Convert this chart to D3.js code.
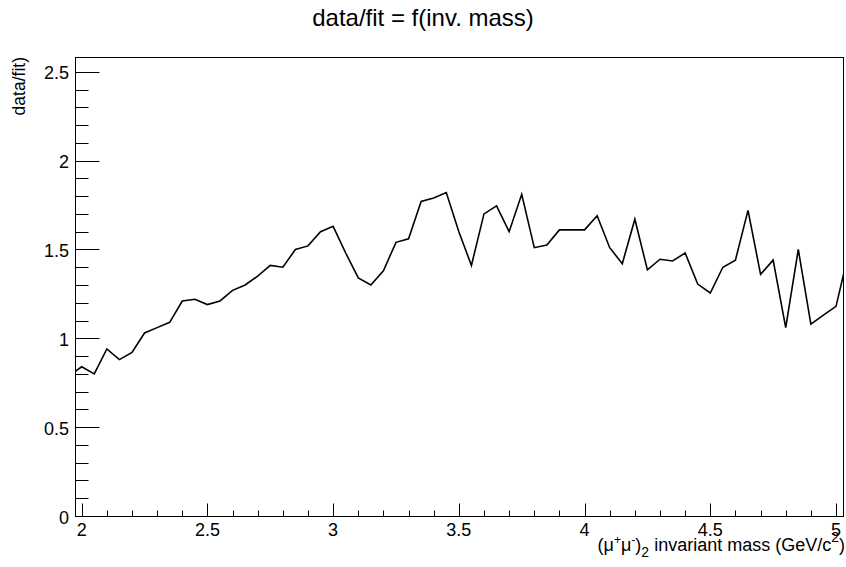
<!DOCTYPE html>
<html>
<head>
<meta charset="utf-8">
<script src="https://cdn.jsdelivr.net/npm/d3@7"></script>
<style>
  html, body { margin: 0; padding: 0; background: #fff; }
  svg { display: block; font-family: "Liberation Sans", Arial, Helvetica, sans-serif; }
</style>
</head>
<body>
<svg id="chart" width="846" height="567"></svg>
<script>
// Invariant-mass bin centres (GeV/c^2) and the data/fit ratio in each bin
const mass = [
  1.95, 2.00, 2.05, 2.10, 2.15, 2.20, 2.25, 2.30, 2.35, 2.40,
  2.45, 2.50, 2.55, 2.60, 2.65, 2.70, 2.75, 2.80, 2.85, 2.90,
  2.95, 3.00, 3.05, 3.10, 3.15, 3.20, 3.25, 3.30, 3.35, 3.40,
  3.45, 3.50, 3.55, 3.60, 3.65, 3.70, 3.75, 3.80, 3.85, 3.90,
  3.95, 4.00, 4.05, 4.10, 4.15, 4.20, 4.25, 4.30, 4.35, 4.40,
  4.45, 4.50, 4.55, 4.60, 4.65, 4.70, 4.75, 4.80, 4.85, 4.90,
  4.95, 5.00, 5.05
];
const ratio = [
  0.79, 0.84, 0.80, 0.94, 0.88, 0.92, 1.03, 1.06, 1.09, 1.21,
  1.22, 1.19, 1.21, 1.27, 1.30, 1.35, 1.41, 1.40, 1.50, 1.52,
  1.60, 1.63, 1.48, 1.34, 1.30, 1.38, 1.54, 1.56, 1.77, 1.79,
  1.82, 1.60, 1.41, 1.70, 1.745, 1.60, 1.81, 1.51, 1.525, 1.61,
  1.61, 1.61, 1.69, 1.51, 1.42, 1.67, 1.385, 1.445, 1.435, 1.48,
  1.305, 1.255, 1.40, 1.44, 1.72, 1.36, 1.44, 1.06, 1.50, 1.08,
  1.13, 1.18, 1.48
];

// Axis tick labels
const xTickLabels = ["2", "2.5", "3", "3.5", "4", "4.5", "5"];
const yTickLabels = ["0", "0.5", "1", "1.5", "2", "2.5"];

const titleText = "data/fit = f(inv. mass)";
const yTitleText = "data/fit)";

const svg = d3.select("#chart");
const frame = { left: 75, right: 844, top: 57, bottom: 516 };

const x = d3.scaleLinear().domain([1.9734, 5.0318]).range([frame.left, frame.right]);
const y = d3.scaleLinear().domain([0, 2.583]).range([frame.bottom, frame.top]);

// clip region for the curve
svg.append("defs").append("clipPath").attr("id", "plotClip")
  .append("rect")
  .attr("x", frame.left).attr("y", frame.top)
  .attr("width", frame.right - frame.left).attr("height", frame.bottom - frame.top);

// Frame box
svg.append("rect")
  .attr("x", frame.left + 0.5).attr("y", frame.top + 0.5)
  .attr("width", frame.right - frame.left - 1).attr("height", frame.bottom - frame.top)
  .attr("fill", "none").attr("stroke", "#000").attr("stroke-width", 1);

// Y axis: major ticks every 0.5, minor every 0.1, drawn inward
const yMajor = yTickLabels.map(Number);
const yMinor = d3.range(0, 26).map(i => i / 10).filter(v => y(v) >= frame.top);
const yAxis = svg.append("g").attr("transform", `translate(${frame.left + 0.5},0)`);
yAxis.selectAll("line.minor").data(yMinor).join("line")
  .attr("class", "minor")
  .attr("x1", 0).attr("x2", 13)
  .attr("y1", d => Math.round(y(d)) + 0.5).attr("y2", d => Math.round(y(d)) + 0.5)
  .attr("stroke", "#000");
yAxis.selectAll("line.major").data(yMajor).join("line")
  .attr("class", "major")
  .attr("x1", 0).attr("x2", 24)
  .attr("y1", d => Math.round(y(d)) + 0.5).attr("y2", d => Math.round(y(d)) + 0.5)
  .attr("stroke", "#000");
svg.append("g").selectAll("text").data(yTickLabels).join("text")
  .attr("x", 69)
  .attr("y", d => y(+d) + 7.5)
  .attr("text-anchor", "end")
  .attr("font-size", 18)
  .attr("fill", "#000")
  .text(d => d);

// X axis: major ticks every 0.5, minor every 0.1, drawn upward from the bottom
const xMajor = xTickLabels.map(Number);
const xMinor = d3.range(20, 51).map(i => i / 10);
const xAxis = svg.append("g").attr("transform", `translate(0,${frame.bottom + 0.5})`);
xAxis.selectAll("line.minor").data(xMinor).join("line")
  .attr("class", "minor")
  .attr("y1", 0).attr("y2", -6)
  .attr("x1", d => Math.round(x(d)) + 0.5).attr("x2", d => Math.round(x(d)) + 0.5)
  .attr("stroke", "#000");
xAxis.selectAll("line.major").data(xMajor).join("line")
  .attr("class", "major")
  .attr("y1", 0).attr("y2", -13)
  .attr("x1", d => Math.round(x(d)) + 0.5).attr("x2", d => Math.round(x(d)) + 0.5)
  .attr("stroke", "#000");
svg.append("g").selectAll("text").data(xTickLabels).join("text")
  .attr("x", d => x(+d))
  .attr("y", 536)
  .attr("text-anchor", "middle")
  .attr("font-size", 18)
  .attr("fill", "#000")
  .text(d => d);

// Ratio curve
const line = d3.line().x((d, i) => x(mass[i])).y(d => y(d));
svg.append("path")
  .datum(ratio)
  .attr("clip-path", "url(#plotClip)")
  .attr("d", line)
  .attr("fill", "none")
  .attr("stroke", "#000")
  .attr("stroke-width", 1.6)
  .attr("stroke-linejoin", "miter");

// Title
svg.append("text")
  .attr("x", 423).attr("y", 26)
  .attr("text-anchor", "middle")
  .attr("font-size", 24)
  .attr("fill", "#000")
  .text(titleText);

// Y axis title
svg.append("text")
  .attr("transform", `translate(25,${frame.top}) rotate(-90)`)
  .attr("text-anchor", "end")
  .attr("font-size", 17.5)
  .attr("fill", "#000")
  .text(yTitleText);

// X axis title with super/subscripts
const xt = svg.append("text")
  .attr("x", 845).attr("y", 551)
  .attr("text-anchor", "end")
  .attr("font-size", 18)
  .attr("fill", "#000");
xt.append("tspan").text("(\u03BC");
xt.append("tspan").attr("font-size", 12).attr("dy", -7).text("+");
xt.append("tspan").attr("dy", 7).text("\u03BC");
xt.append("tspan").attr("font-size", 12).attr("dy", -7).text("-");
xt.append("tspan").attr("dy", 7).text(")");
xt.append("tspan").attr("font-size", 14).attr("dy", 6).text("2");
xt.append("tspan").attr("dy", -6).text(" invariant mass (GeV/c");
xt.append("tspan").attr("font-size", 14).attr("dy", -9).text("2");
xt.append("tspan").attr("dy", 9).text(")");
</script>
</body>
</html>
